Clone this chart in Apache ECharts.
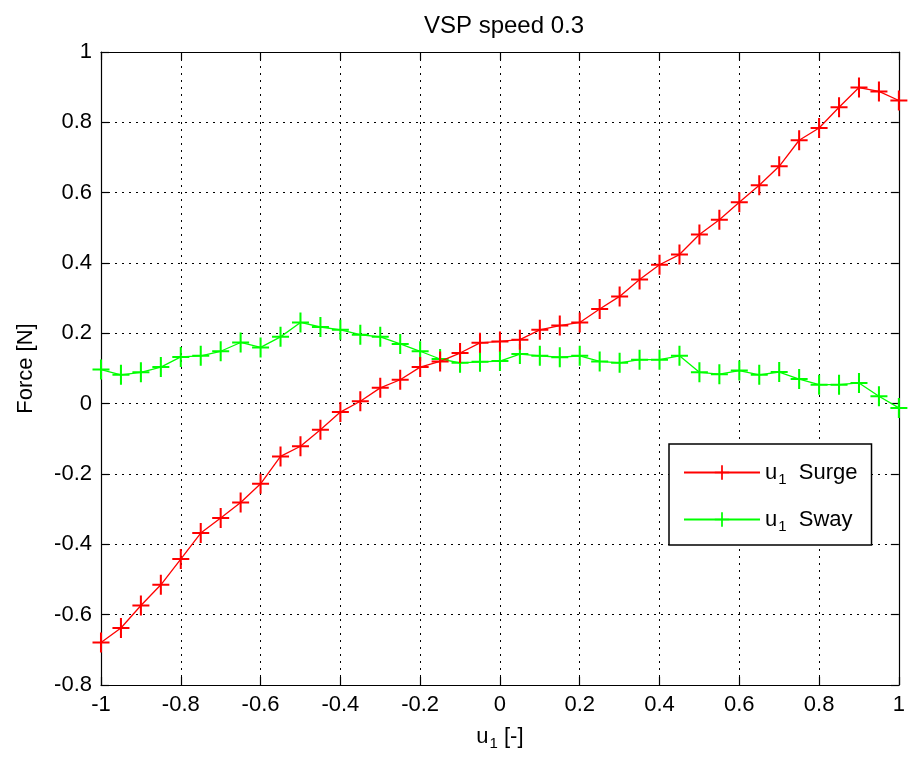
<!DOCTYPE html>
<html>
<head>
<meta charset="utf-8">
<script src="https://cdn.jsdelivr.net/npm/echarts@6/dist/echarts.min.js"></script>
<style>
  html, body { margin: 0; padding: 0; background: #fff; }
  #chart { width: 908px; height: 761px; }
</style>
</head>
<body>
<div id="chart"></div>
<script>
// Input u1 sweep
const uValues = [-1, -0.95, -0.9, -0.85, -0.8, -0.75, -0.7, -0.65, -0.6, -0.55, -0.5,
  -0.45, -0.4, -0.35, -0.3, -0.25, -0.2, -0.15, -0.1, -0.05, 0,
  0.05, 0.1, 0.15, 0.2, 0.25, 0.3, 0.35, 0.4, 0.45, 0.5,
  0.55, 0.6, 0.65, 0.7, 0.75, 0.8, 0.85, 0.9, 0.95, 1];

// Measured forces [N]
const surgeForce = [-0.679, -0.638, -0.574, -0.515, -0.442, -0.368, -0.325, -0.281, -0.228, -0.150, -0.121,
  -0.074, -0.024, 0.007, 0.045, 0.068, 0.104, 0.120, 0.144, 0.173, 0.177,
  0.182, 0.210, 0.222, 0.231, 0.269, 0.305, 0.353, 0.395, 0.424, 0.481,
  0.523, 0.573, 0.621, 0.675, 0.749, 0.784, 0.843, 0.899, 0.888, 0.862];

const swayForce = [0.097, 0.082, 0.089, 0.104, 0.133, 0.136, 0.149, 0.174, 0.160, 0.190, 0.231,
  0.218, 0.210, 0.196, 0.190, 0.170, 0.149, 0.127, 0.116, 0.119, 0.121,
  0.141, 0.136, 0.132, 0.136, 0.120, 0.116, 0.125, 0.125, 0.136, 0.089,
  0.084, 0.094, 0.082, 0.090, 0.070, 0.054, 0.054, 0.059, 0.021, -0.012];

const seriesNames = ['u1 Surge', 'u1 Sway'];
const seriesColors = ['#ff0000', '#00ff00'];

const FONT = 'Liberation Sans, Arial, Helvetica, sans-serif';

// plus-sign marker
const PLUS = 'path://M-0.12,-1L0.12,-1L0.12,-0.1L1,-0.1L1,0.1L0.12,0.1L0.12,1L-0.12,1L-0.12,0.1L-1,0.1L-1,-0.1L-0.12,-0.1Z';

function pairs(xs, ys) { return xs.map((x, i) => [x, ys[i]]); }

const chart = echarts.init(document.getElementById('chart'), null, { renderer: 'canvas' });

const dotted = { color: '#000', width: 1, type: [2, 5] };

const frameAxis = {
  axisLine: { show: true, onZero: false, lineStyle: { color: '#000', width: 1.2 } },
  axisTick: { show: true, inside: true, length: 8, lineStyle: { color: '#000', width: 1.2 } }
};

chart.setOption({
  backgroundColor: '#fff',
  animation: false,
  title: {
    text: 'VSP speed 0.3',
    left: 499,
    textAlign: 'center',
    top: 9,
    textStyle: { fontFamily: FONT, fontSize: 24, fontWeight: 'normal', color: '#000' }
  },
  grid: { left: 101, right: 4, top: 52, bottom: 76, containLabel: false },
  legend: {
    orient: 'vertical',
    left: 669,
    top: 444,
    padding: [14, 14, 11, 14],
    itemGap: 18,
    itemWidth: 76,
    itemHeight: 18,
    backgroundColor: '#fff',
    borderColor: '#000',
    borderWidth: 1.5,
    borderRadius: 0,
    data: seriesNames,
    formatter: (name) => '{u|u}{s|1}{t|  ' + name.slice(3) + '}',
    textStyle: {
      fontFamily: FONT, color: '#000', fontSize: 22,
      rich: {
        u: { fontFamily: FONT, fontSize: 22, color: '#000', lineHeight: 24 },
        s: { fontFamily: FONT, fontSize: 15, color: '#000', lineHeight: 24, padding: [14, 0, 0, 1] },
        t: { fontFamily: FONT, fontSize: 22, color: '#000', lineHeight: 24 }
      }
    }
  },
  xAxis: [
    Object.assign({
      type: 'value', min: -1, max: 1, interval: 0.2, position: 'bottom',
      name: '{u|u}{s|1}{u| [-]}',
      nameLocation: 'middle',
      nameGap: 40,
      nameTextStyle: {
        rich: {
          u: { fontFamily: FONT, fontSize: 22, color: '#000', lineHeight: 24 },
          s: { fontFamily: FONT, fontSize: 15, color: '#000', lineHeight: 24, padding: [14, 0, 0, 1] }
        }
      },
      axisLabel: { show: true, margin: 9, fontFamily: FONT, fontSize: 22, color: '#000' },
      splitLine: { show: true, lineStyle: dotted }
    }, frameAxis),
    Object.assign({
      type: 'value', min: -1, max: 1, interval: 0.2, position: 'top',
      axisLabel: { show: false }, splitLine: { show: false }
    }, frameAxis)
  ],
  yAxis: [
    Object.assign({
      type: 'value', min: -0.8, max: 1, interval: 0.2, position: 'left',
      name: 'Force [N]',
      nameLocation: 'middle',
      nameGap: 64,
      nameTextStyle: { fontFamily: FONT, fontSize: 22, color: '#000' },
      axisLabel: { show: true, margin: 9, fontFamily: FONT, fontSize: 22, color: '#000' },
      splitLine: { show: true, lineStyle: dotted }
    }, frameAxis),
    Object.assign({
      type: 'value', min: -0.8, max: 1, interval: 0.2, position: 'right',
      axisLabel: { show: false }, splitLine: { show: false }
    }, frameAxis)
  ],
  series: [
    {
      name: seriesNames[0], type: 'line', xAxisIndex: 0, yAxisIndex: 0,
      data: pairs(uValues, surgeForce),
      symbol: PLUS, symbolSize: [17, 20], showAllSymbol: true,
      lineStyle: { color: seriesColors[0], width: 1.3 },
      itemStyle: { color: seriesColors[0] },
      clip: false, z: 3
    },
    {
      name: seriesNames[1], type: 'line', xAxisIndex: 0, yAxisIndex: 0,
      data: pairs(uValues, swayForce),
      symbol: PLUS, symbolSize: [17, 20], showAllSymbol: true,
      lineStyle: { color: seriesColors[1], width: 1.3 },
      itemStyle: { color: seriesColors[1] },
      clip: false, z: 2
    }
  ]
});
</script>
</body>
</html>
